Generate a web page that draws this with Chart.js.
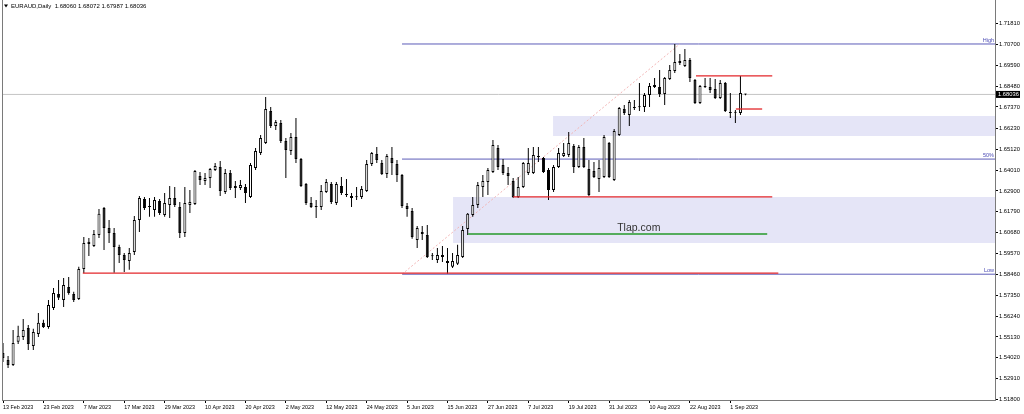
<!DOCTYPE html>
<html>
<head>
<meta charset="utf-8">
<title>EURAUD Daily</title>
<script src="https://cdn.jsdelivr.net/npm/chart.js@4.4.0/dist/chart.umd.min.js"></script>
<style>
  html, body { margin: 0; padding: 0; background: #fff; }
  #wrap { width: 1024px; height: 414px; }
</style>
</head>
<body>
<div id="wrap"><canvas id="chart" width="1024" height="414"></canvas></div>
<script>
// one label every 8 bars, bar 0 = 13 Feb 2023
var dateLabels = ['13 Feb 2023','23 Feb 2023','7 Mar 2023','17 Mar 2023','29 Mar 2023','10 Apr 2023','20 Apr 2023',
    '2 May 2023','12 May 2023','24 May 2023','5 Jun 2023','15 Jun 2023','27 Jun 2023','7 Jul 2023','19 Jul 2023',
    '31 Jul 2023','10 Aug 2023','22 Aug 2023','1 Sep 2023'];
var labelEvery = 8;

var priceTicks = [1.71810,1.70700,1.69590,1.68480,1.67370,1.66230,1.65120,1.64010,1.62900,1.61790,
    1.60680,1.59570,1.58460,1.57350,1.56240,1.55130,1.54020,1.52910,1.51800];

var open = [1.5428,1.5391,1.5364,1.5487,1.5513,1.5561,1.5465,1.5529,1.5588,1.5566,
    1.5667,1.5742,1.5710,1.5779,1.5742,1.5715,1.5875,1.6019,1.5997,1.6056,
    1.6199,1.6093,1.6066,1.5992,1.5949,1.5917,1.5965,1.6136,1.6247,1.6204,
    1.6189,1.6237,1.6162,1.6215,1.6253,1.6205,1.6066,1.6215,1.6221,1.6370,
    1.6343,1.6359,1.6402,1.6418,1.6285,1.6386,1.6306,1.6306,1.6311,1.6258,
    1.6412,1.6492,1.6545,1.6716,1.6636,1.6652,1.6556,1.6503,1.6577,1.6460,
    1.6327,1.6226,1.6205,1.6205,1.6285,1.6327,1.6226,1.6316,1.6270,1.6263,
    1.6256,1.6258,1.6290,1.6434,1.6487,1.6439,1.6380,1.6465,1.6434,1.6375,
    1.6210,1.6183,1.6029,1.6072,1.6056,1.5942,1.5923,1.5939,1.5917,1.5886,
    1.5902,1.5939,1.6088,1.6162,1.6215,1.6311,1.6338,1.6391,1.6519,1.6428,
    1.6386,1.6343,1.6258,1.6311,1.6386,1.6386,1.6471,1.6465,1.6402,1.6295,
    1.6418,1.6476,1.6481,1.6529,1.6418,1.6524,1.6407,1.6396,1.6354,1.6364,
    1.6545,1.6348,1.6588,1.6726,1.6694,1.6731,1.6738,1.6737,1.6801,1.6843,
    1.6843,1.6806,1.6886,1.6928,1.6971,1.6955,1.6987,1.6880,1.6758,1.6843,
    1.6843,1.6832,1.6785,1.6864,1.6710,1.6710,1.6705,1.68060];
var high = [1.5481,1.5412,1.5550,1.5572,1.5609,1.5577,1.5556,1.5641,1.5604,1.5710,
    1.5774,1.5816,1.5827,1.5832,1.5753,1.5886,1.6045,1.6040,1.6082,1.6194,
    1.6205,1.6136,1.6093,1.6003,1.5960,1.5987,1.6157,1.6263,1.6258,1.6253,
    1.6258,1.6247,1.6279,1.6316,1.6311,1.6231,1.6311,1.6295,1.6402,1.6391,
    1.6386,1.6412,1.6439,1.6449,1.6407,1.6402,1.6343,1.6348,1.6327,1.6439,
    1.6519,1.6588,1.6790,1.6737,1.6668,1.6668,1.6572,1.6598,1.6678,1.6465,
    1.6332,1.6258,1.6242,1.6322,1.6354,1.6338,1.6338,1.6364,1.6354,1.6279,
    1.6311,1.6316,1.6455,1.6497,1.6524,1.6455,1.6487,1.6524,1.6455,1.6380,
    1.6226,1.6199,1.6104,1.6104,1.6109,1.5960,1.5987,1.5997,1.5987,1.5960,
    1.6003,1.6104,1.6173,1.6258,1.6338,1.6375,1.6412,1.6561,1.6535,1.6460,
    1.6418,1.6359,1.6364,1.6444,1.6519,1.6524,1.6524,1.6471,1.6412,1.6428,
    1.6519,1.6545,1.6604,1.6540,1.6535,1.6572,1.6455,1.6444,1.6455,1.6588,
    1.6551,1.6620,1.6737,1.6747,1.6774,1.6774,1.6864,1.6811,1.6864,1.6891,
    1.6934,1.6896,1.6960,1.7072,1.7019,1.7045,1.6997,1.6886,1.6854,1.6891,
    1.6891,1.6886,1.6880,1.6870,1.6811,1.6721,1.6902,1.68072];
var low = [1.5380,1.5348,1.5359,1.5476,1.5497,1.5444,1.5444,1.5513,1.5561,1.5556,
    1.5657,1.5710,1.5673,1.5737,1.5699,1.5710,1.5853,1.5944,1.5992,1.6040,
    1.5976,1.6013,1.5855,1.5907,1.5859,1.5870,1.5949,1.6072,1.6189,1.6152,
    1.6152,1.6162,1.6152,1.6146,1.6205,1.6040,1.6045,1.6173,1.6215,1.6322,
    1.6322,1.6306,1.6396,1.6263,1.6274,1.6295,1.6253,1.6295,1.6226,1.6253,
    1.6402,1.6481,1.6540,1.6625,1.6614,1.6545,1.6359,1.6481,1.6439,1.6311,
    1.6215,1.6199,1.6146,1.6189,1.6279,1.6221,1.6215,1.6269,1.6258,1.6205,
    1.6242,1.6247,1.6285,1.6423,1.6439,1.6375,1.6359,1.6375,1.6338,1.6199,
    1.6152,1.6035,1.5987,1.6029,1.5933,1.5923,1.5907,1.5912,1.5850,1.5880,
    1.5896,1.5933,1.6056,1.6152,1.6199,1.6258,1.6269,1.6386,1.6402,1.6375,
    1.6322,1.6253,1.6253,1.6306,1.6375,1.6380,1.6444,1.6386,1.6242,1.6285,
    1.6412,1.6471,1.6471,1.6386,1.6412,1.6412,1.6263,1.6359,1.6285,1.6359,
    1.6359,1.6343,1.6582,1.6694,1.6636,1.6721,1.6716,1.6710,1.6737,1.6838,
    1.6790,1.6747,1.6880,1.6918,1.6960,1.6950,1.6870,1.6753,1.6753,1.6838,
    1.6811,1.6779,1.6779,1.6710,1.6678,1.6652,1.6694,1.67987];
var close = [1.5401,1.5364,1.5481,1.5519,1.5550,1.5476,1.5540,1.5588,1.5566,1.5683,
    1.5747,1.5721,1.5790,1.5747,1.5710,1.5875,1.6013,1.6008,1.6061,1.6168,
    1.6093,1.6066,1.5992,1.5949,1.5923,1.5960,1.6136,1.6253,1.6199,1.6206,
    1.6242,1.6173,1.6226,1.6253,1.6215,1.6066,1.6226,1.6231,1.6396,1.6348,
    1.6359,1.6407,1.6423,1.6290,1.6386,1.6306,1.6316,1.6322,1.6279,1.6428,
    1.6503,1.6572,1.6726,1.6636,1.6657,1.6556,1.6508,1.6577,1.6460,1.6316,
    1.6226,1.6205,1.6210,1.6290,1.6338,1.6231,1.6327,1.6279,1.6268,1.6253,
    1.6258,1.6301,1.6434,1.6492,1.6455,1.6380,1.6476,1.6439,1.6375,1.6210,
    1.6194,1.6045,1.6093,1.6061,1.5939,1.5944,1.5949,1.5949,1.5907,1.5917,
    1.5949,1.6082,1.6168,1.6215,1.6322,1.6343,1.6402,1.6535,1.6418,1.6386,
    1.6370,1.6258,1.6311,1.6439,1.6439,1.6481,1.6473,1.6391,1.6295,1.6418,
    1.6492,1.6492,1.6545,1.6418,1.6524,1.6418,1.6269,1.6364,1.6412,1.6577,
    1.6364,1.6609,1.6731,1.6705,1.6763,1.6737,1.6736,1.6801,1.6849,1.6854,
    1.6806,1.6891,1.6934,1.6976,1.6981,1.6987,1.6891,1.6758,1.6849,1.6849,
    1.6827,1.6785,1.6864,1.6716,1.6705,1.6706,1.6811,1.68036];

// chart objects: [fromBar, toBar, price]
var lastPrice = 1.68036;
var fibHigh = 1.7072, fibLow = 1.5847, fibFrom = 79, fibTo = 134;
var redLines = [[15.8, 153.5, 1.5853], [101, 152.3, 1.6258], [137.2, 152.3, 1.6902], [145.1, 150.3, 1.6726]];
var greenLines = [[92.1, 151.3, 1.6061]];
// zones: [fromBar, top, bottom]
var zones = [[108.9, 1.6689, 1.6582], [89.1, 1.6258, 1.6013]];
var xMin = -0.2, xMax = 196.4;

function hline(from, to, price, color, order, extra) {
    var ds = {
        type: 'line',
        data: [{x: from, y: price}, {x: to, y: price}],
        borderColor: color,
        borderWidth: 1,
        pointRadius: 0,
        fill: false,
        order: order
    };
    for (var k in extra) ds[k] = extra[k];
    return ds;
}

var datasets = [];

zones.forEach(function(z) {
    datasets.push(hline(z[0], xMax, z[1], 'rgba(0,0,0,0)', 20, {
        fill: {value: z[2]}, backgroundColor: '#e5e5f7', borderWidth: 0
    }));
});
datasets.push(hline(xMin, xMax, lastPrice, '#c4c4c4', 15, {}));
var fibMid = (fibHigh + fibLow) / 2;
[fibHigh, fibMid, fibLow].forEach(function(p) {
    datasets.push(hline(fibFrom, xMax, p, '#5c5cb8', 12, {}));
});
datasets.push({
    type: 'line',
    data: [{x: fibFrom, y: fibLow}, {x: fibTo, y: fibHigh}],
    borderColor: '#f2b5b5', borderWidth: 1, borderDash: [2, 2],
    pointRadius: 0, fill: false, order: 11
});

var wicks = [], bodies = [], bodyColors = [];
for (var i = 0; i < open.length; i++) {
    wicks.push({x: i, y: [low[i], high[i]]});
    bodies.push({x: i, y: [open[i], close[i]]});
    bodyColors.push(close[i] >= open[i] ? '#ffffff' : '#000000');
}
datasets.push({
    type: 'bar', data: wicks, backgroundColor: '#000', borderWidth: 0,
    barThickness: 1, grouped: false, inflateAmount: 0, order: 5
});
datasets.push({
    type: 'bar', data: bodies, backgroundColor: bodyColors, borderColor: '#000', borderWidth: 1,
    borderSkipped: false, barThickness: 3, grouped: false, inflateAmount: 0, minBarLength: 1, order: 4
});

redLines.forEach(function(l) { datasets.push(hline(l[0], l[1], l[2], '#e3262a', 1, {borderWidth: 1.3})); });
greenLines.forEach(function(l) { datasets.push(hline(l[0], l[1], l[2], '#25982a', 1, {borderWidth: 1.3})); });

var overlay = {
    id: 'overlay',
    afterDraw: function(chart) {
        var ctx = chart.ctx, a = chart.chartArea, x = chart.scales.x, y = chart.scales.y;
        ctx.save();
        // left frame
        ctx.strokeStyle = '#7a7a7a';
        ctx.lineWidth = 1;
        ctx.beginPath();
        ctx.moveTo(a.left + 0.5, a.top);
        ctx.lineTo(a.left + 0.5, a.bottom);
        ctx.stroke();

        // header
        ctx.fillStyle = '#000';
        ctx.beginPath();
        ctx.moveTo(4, 4.5); ctx.lineTo(8, 4.5); ctx.lineTo(6, 7.5); ctx.closePath();
        ctx.fill();
        ctx.font = '6px "Liberation Sans"';
        ctx.textBaseline = 'middle';
        ctx.textAlign = 'left';
        ctx.fillText('EURAUD,Daily  1.68060 1.68072 1.67987 1.68036', 11, 6.5);

        // fibo level names
        ctx.fillStyle = '#4a4ab4';
        ctx.font = '5.5px "Liberation Sans"';
        ctx.textAlign = 'right';
        ctx.textBaseline = 'bottom';
        ctx.fillText('High', a.right - 1, y.getPixelForValue(fibHigh) - 0.5);
        ctx.fillText('50%', a.right - 1, y.getPixelForValue(fibMid) - 0.5);
        ctx.fillText('Low', a.right - 1, y.getPixelForValue(fibLow) - 0.5);

        // text object
        ctx.fillStyle = '#333';
        ctx.font = '10.5px "Liberation Sans"';
        ctx.textAlign = 'left';
        ctx.textBaseline = 'middle';
        ctx.fillText('Tlap.com', x.getPixelForValue(121.6), y.getPixelForValue(1.6093));

        // last price marker
        var py = y.getPixelForValue(lastPrice);
        ctx.fillStyle = '#000';
        ctx.fillRect(a.right + 1, py - 3.5, 24, 7);
        ctx.fillStyle = '#fff';
        ctx.font = '5.8px "Liberation Sans"';
        ctx.fillText(lastPrice.toFixed(5), a.right + 3, py + 0.3);
        ctx.restore();
    }
};

new Chart(document.getElementById('chart'), {
    type: 'bar',
    data: {datasets: datasets},
    options: {
        responsive: false,
        animation: false,
        devicePixelRatio: 1,
        events: [],
        layout: {padding: {left: 2, top: 0, right: 0, bottom: 0}},
        plugins: {legend: {display: false}, tooltip: {enabled: false}},
        scales: {
            x: {
                type: 'linear', min: xMin, max: xMax, offset: false,
                afterBuildTicks: function(s) {
                    s.ticks = dateLabels.map(function(d, i) { return {value: i * labelEvery}; });
                },
                afterFit: function(s) { s.height = 14; s.paddingLeft = 0; s.paddingRight = 0; },
                ticks: {
                    autoSkip: false, maxRotation: 0, minRotation: 0, align: 'start', padding: 1,
                    color: '#000', font: {family: 'Liberation Sans', size: 5.4},
                    callback: function(v, i) { return dateLabels[i]; }
                },
                grid: {drawOnChartArea: false, offset: false, tickLength: 3, color: '#000'},
                border: {color: '#7a7a7a'}
            },
            y: {
                type: 'linear', position: 'right', min: 1.51775, max: 1.73061,
                afterBuildTicks: function(s) {
                    s.ticks = priceTicks.map(function(v) { return {value: v}; });
                },
                afterFit: function(s) { s.width = 29; s.paddingTop = 0; s.paddingBottom = 0; },
                ticks: {
                    autoSkip: false, padding: 1, color: '#000',
                    font: {family: 'Liberation Sans', size: 5.8},
                    callback: function(v) { return v.toFixed(5); }
                },
                grid: {drawOnChartArea: false, tickLength: 3, color: '#000'},
                border: {color: '#7a7a7a'}
            }
        }
    },
    plugins: [overlay]
});
</script>
</body>
</html>
